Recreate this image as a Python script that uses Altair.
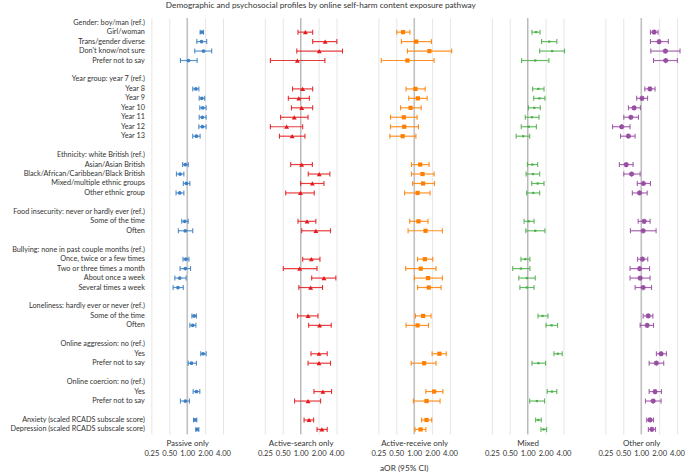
import json
import altair as alt
import pandas as pd

# Row structure: reference category header followed by its compared levels
groups = [
    ("Gender: boy/man (ref.)", ["Girl/woman", "Trans/gender diverse", "Don't know/not sure", "Prefer not to say"]),
    ("Year group: year 7 (ref.)", ["Year 8", "Year 9", "Year 10", "Year 11", "Year 12", "Year 13"]),
    ("Ethnicity: white British (ref.)", ["Asian/Asian British", "Black/African/Caribbean/Black British",
                                         "Mixed/multiple ethnic groups", "Other ethnic group"]),
    ("Food insecurity: never or hardly ever (ref.)", ["Some of the time", "Often"]),
    ("Bullying: none in past couple months (ref.)", ["Once, twice or a few times", "Two or three times a month",
                                                     "About once a week", "Several times a week"]),
    ("Loneliness: hardly ever or never (ref.)", ["Some of the time", "Often"]),
    ("Online aggression: no (ref.)", ["Yes", "Prefer not to say"]),
    ("Online coercion: no (ref.)", ["Yes", "Prefer not to say"]),
    (None, ["Anxiety (scaled RCADS subscale score)", "Depression (scaled RCADS subscale score)"]),
]

panels = ["Passive only", "Active-search only", "Active-receive only", "Mixed", "Other only"]
colors = ["#3d80c3", "#e41a1c", "#ff7f00", "#4daf4a", "#984ea3"]

# Adjusted odds ratios with 95% CI, in row order of the items above
passive_est = [1.76, 1.74, 1.88, 1.05, 1.40, 1.76, 1.83, 1.80, 1.80, 1.43, 0.93, 0.76, 0.97, 0.75,
               0.91, 0.93, 0.95, 0.93, 0.75, 0.70, 1.31, 1.24, 1.85, 1.18, 1.43, 0.93, 1.36, 1.47]
passive_lo = [1.65, 1.45, 1.34, 0.77, 1.24, 1.59, 1.63, 1.59, 1.57, 1.24, 0.84, 0.66, 0.86, 0.65,
              0.81, 0.71, 0.85, 0.76, 0.62, 0.58, 1.20, 1.11, 1.69, 1.04, 1.26, 0.77, 1.28, 1.40]
passive_hi = [1.88, 2.13, 2.58, 1.47, 1.57, 1.97, 2.08, 2.08, 2.08, 1.65, 1.04, 0.88, 1.11, 0.88,
              1.04, 1.24, 1.07, 1.14, 0.96, 0.86, 1.43, 1.40, 2.08, 1.43, 1.63, 1.09, 1.45, 1.57]

search_est = [1.20, 2.58, 2.05, 0.88, 1.08, 0.93, 1.04, 0.78, 0.58, 0.72, 1.04, 2.05, 1.57, 0.99,
              1.28, 1.80, 1.51, 0.96, 2.46, 1.47, 1.33, 2.08, 2.03, 2.03, 2.36, 1.33, 1.38, 2.27]
search_lo = [0.90, 1.59, 0.86, 0.31, 0.73, 0.62, 0.70, 0.46, 0.31, 0.44, 0.68, 1.34, 1.00, 0.56,
             0.90, 1.04, 1.08, 0.51, 1.53, 0.93, 0.89, 1.36, 1.49, 1.33, 1.67, 0.79, 1.14, 1.88]
search_hi = [1.59, 4.05, 5.04, 2.55, 1.59, 1.40, 1.59, 1.33, 1.08, 1.18, 1.57, 3.09, 2.46, 1.69,
             1.80, 3.17, 2.11, 1.88, 3.90, 2.33, 1.95, 3.26, 2.79, 3.17, 3.30, 2.16, 1.65, 2.79]

receive_est = [0.65, 1.08, 1.80, 0.77, 1.05, 1.15, 0.87, 0.67, 0.68, 0.64, 1.26, 1.38, 1.41, 1.14,
               1.18, 1.55, 1.51, 1.29, 1.71, 1.76, 1.41, 1.14, 2.65, 1.47, 2.16, 1.61, 1.61, 1.28]
receive_lo = [0.51, 0.61, 0.77, 0.28, 0.73, 0.81, 0.59, 0.40, 0.40, 0.39, 0.90, 0.90, 0.94, 0.69,
              0.84, 0.79, 1.14, 0.72, 1.01, 1.14, 1.05, 0.73, 2.00, 0.89, 1.57, 0.97, 1.33, 1.03]
receive_hi = [0.85, 1.95, 4.27, 2.16, 1.53, 1.65, 1.31, 1.12, 1.18, 1.07, 1.78, 2.16, 2.19, 1.85,
              1.71, 2.98, 2.05, 2.33, 2.98, 2.83, 1.92, 1.74, 3.46, 2.33, 3.03, 2.72, 1.97, 1.57]

mixed_est = [1.38, 2.30, 2.58, 1.34, 1.51, 1.57, 1.29, 1.18, 1.04, 0.84, 1.20, 1.23, 1.47, 1.24,
             1.04, 1.34, 0.91, 0.77, 0.97, 0.97, 1.78, 2.52, 3.21, 1.51, 2.55, 1.43, 1.51, 1.85]
mixed_lo = [1.18, 1.71, 1.59, 0.79, 1.21, 1.26, 1.03, 0.91, 0.78, 0.64, 0.99, 0.94, 1.17, 0.96,
            0.87, 0.93, 0.77, 0.56, 0.71, 0.74, 1.49, 2.03, 2.76, 1.18, 2.13, 1.08, 1.36, 1.67]
mixed_hi = [1.61, 3.09, 4.15, 2.27, 1.88, 1.95, 1.63, 1.55, 1.40, 1.08, 1.47, 1.59, 1.88, 1.59,
            1.28, 1.95, 1.09, 1.09, 1.34, 1.28, 2.19, 3.17, 3.80, 2.00, 3.09, 1.92, 1.69, 2.08]

other_est = [1.65, 2.00, 2.55, 2.58, 1.40, 1.03, 0.76, 0.67, 0.47, 0.61, 0.56, 0.69, 1.09, 0.94,
             1.12, 1.08, 1.05, 0.94, 0.96, 1.08, 1.31, 1.26, 2.16, 1.80, 1.71, 1.59, 1.41, 1.51]
other_lo = [1.43, 1.43, 1.45, 1.61, 1.15, 0.84, 0.61, 0.51, 0.33, 0.45, 0.43, 0.51, 0.86, 0.71,
            0.89, 0.66, 0.87, 0.65, 0.65, 0.79, 1.08, 0.96, 1.80, 1.36, 1.36, 1.18, 1.24, 1.32]
other_hi = [1.92, 2.86, 4.49, 4.05, 1.71, 1.28, 0.97, 0.90, 0.65, 0.79, 0.73, 0.96, 1.43, 1.26,
            1.41, 1.78, 1.29, 1.38, 1.41, 1.49, 1.57, 1.61, 2.65, 2.39, 2.19, 2.16, 1.61, 1.74]

series = [
    (passive_est, passive_lo, passive_hi),
    (search_est, search_lo, search_hi),
    (receive_est, receive_lo, receive_hi),
    (mixed_est, mixed_lo, mixed_hi),
    (other_est, other_lo, other_hi),
]

tick_values = [0.25, 0.5, 1, 2, 4]

# Build row labels (with blank spacer rows between groups) and the row index of each item
row_labels = []
item_rows = []
for gi, (header, items) in enumerate(groups):
    if gi > 0:
        row_labels.append("")
    if header:
        row_labels.append(header)
    for it in items:
        item_rows.append(len(row_labels))
        row_labels.append(it)

n_rows = len(row_labels)
FONT = "Lato"
TEXT = "#333333"

asterisk = "M-1,0L1,0M0,-1L0,1M-0.7,-0.7L0.7,0.7M-0.7,0.7L0.7,-0.7"
marker_styles = [
    dict(shape="circle", size=14, filled=True),
    dict(shape="triangle-up", size=24, filled=True),
    dict(shape="square", size=18, filled=True),
    dict(shape="square", size=5, filled=True),
    dict(shape=asterisk, size=28, filled=False, strokeWidth=1.4),
]

xscale = alt.Scale(type="log", base=2, domain=[0.25, 4], nice=False)


def make_panel(i):
    est, lo, hi = series[i]
    df = pd.DataFrame({"row": item_rows, "est": est, "lo": lo, "hi": hi})
    color = colors[i]

    xaxis = alt.Axis(
        values=tick_values, format=".2f", title=panels[i], grid=True, gridColor="#e6e6e6",
        domain=False, ticks=False, labelPadding=15, labelOverlap=False, labelFlush=False,
        titleY=9, titleBaseline="middle", titleFontWeight="normal", labelFontSize=7.6,
    )
    if i == 0:
        yaxis = alt.Axis(
            title=None, domain=False, ticks=False, grid=False, labelPadding=7,
            labelExpr=f"{json.dumps(row_labels)}[datum.value]",
            minExtent=147, maxExtent=147, labelLimit=300, labelFontSize=7.3,
        )
    else:
        yaxis = None
    y = alt.Y("row:O", scale=alt.Scale(domain=list(range(n_rows))), axis=yaxis)

    base = alt.Chart(df)
    ref = alt.Chart(pd.DataFrame({"v": [1.0]})).mark_rule(color="#b8b8b8", strokeWidth=1.3).encode(
        x=alt.X("v:Q", scale=xscale, axis=xaxis)
    )
    ci = base.mark_rule(color=color, strokeWidth=1.2, opacity=0.85).encode(
        x=alt.X("lo:Q", scale=xscale, axis=xaxis), x2="hi:Q", y=y
    )
    cap_lo = base.mark_tick(color=color, size=5, thickness=1.1, opacity=0.9).encode(
        x=alt.X("lo:Q", scale=xscale, axis=xaxis), y=y
    )
    cap_hi = base.mark_tick(color=color, size=5, thickness=1.1, opacity=0.9).encode(
        x=alt.X("hi:Q", scale=xscale, axis=xaxis), y=y
    )
    pts = base.mark_point(color=color, opacity=1, **marker_styles[i]).encode(
        x=alt.X("est:Q", scale=xscale, axis=xaxis), y=y
    )
    layers = [ref, ci, cap_lo, cap_hi, pts]
    if i == 2:
        note = alt.Chart(pd.DataFrame({"t": ["aOR (95% CI)"]})).mark_text(
            fontSize=8.3, font=FONT, color=TEXT, baseline="middle"
        ).encode(text="t:N", x=alt.value(26), y=alt.value(453))
        layers.append(note)
    return alt.layer(*layers).properties(width=72, height=n_rows * 9.5)


chart = alt.hconcat(
    *[make_panel(i) for i in range(len(panels))], spacing=26
).properties(
    title=alt.TitleParams(
        "Demographic and psychosocial profiles by online self-harm content exposure pathway",
        fontSize=8.3, font=FONT, fontWeight="normal", color=TEXT, anchor="middle", dx=-24, offset=8,
    ),
    padding={"left": 5, "top": 0, "right": 0, "bottom": 0},
).configure_view(stroke=None).configure_axis(
    labelFont=FONT, titleFont=FONT, labelFontSize=8, titleFontSize=8, labelColor=TEXT, titleColor=TEXT
)

chart.save("out.html", embed_options={"renderer": "svg", "actions": False})
